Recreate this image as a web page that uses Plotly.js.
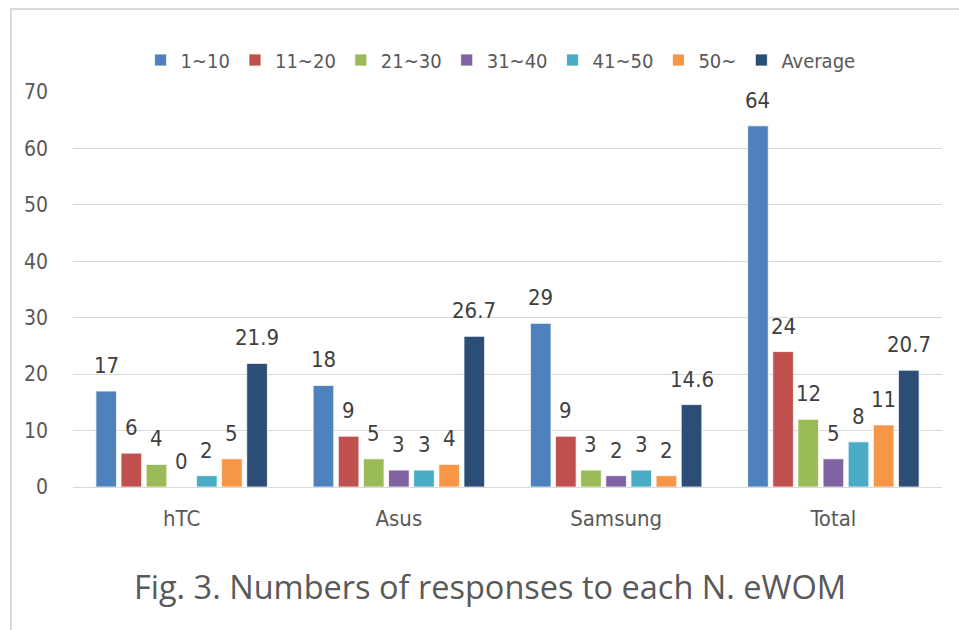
<!DOCTYPE html>
<html>
<head>
<meta charset="utf-8">
<script src="https://cdn.plot.ly/plotly-3.0.1.min.js"></script>
<style>
  html, body { margin: 0; padding: 0; background: #ffffff; }
  #wrap { position: relative; width: 959px; height: 630px; overflow: hidden; }
  #frame { position: absolute; left: 10px; top: 8px; width: 1000px; height: 700px;
           border-left: 2px solid #d9d9d9; border-top: 2px solid #d9d9d9; pointer-events: none; }
  #chart { position: absolute; left: 0; top: 0; width: 959px; height: 630px; }
</style>
</head>
<body>
<div id="wrap">
  <div id="chart"></div>
  <div id="frame"></div>
</div>
<script>
// Brands on the category axis
const brands = ['hTC', 'Asus', 'Samsung', 'Total'];

// Number of responses per eWOM count band
const band1to10  = [17, 18, 29, 64];
const band11to20 = [6, 9, 9, 24];
const band21to30 = [4, 5, 3, 12];
const band31to40 = [0, 3, 2, 5];
const band41to50 = [2, 3, 3, 8];
const band50up   = [5, 4, 2, 11];
const average    = [21.9, 26.7, 14.6, 20.7];

const seriesNames  = ['1~10', '11~20', '21~30', '31~40', '41~50', '50~', 'Average'];
const seriesValues = [band1to10, band11to20, band21to30, band31to40, band41to50, band50up, average];
const seriesColors = ['#4f81bd', '#c0504d', '#9bbb59', '#8064a2', '#4bacc6', '#f79646', '#2c4d75'];

const yTicks = [0, 10, 20, 30, 40, 50, 60, 70];

const FONT = '"Liberation Sans Narrow", "Arial Narrow", "DejaVu Sans Condensed", sans-serif';
const W = 959, H = 630;
const margin = { l: 73, r: 17, t: 92, b: 143 };
const bargap = 0.19, bargroupgap = 0.18;

const traces = seriesNames.map((name, i) => ({
  type: 'bar',
  name: name,
  x: brands,
  y: seriesValues[i],
  marker: { color: seriesColors[i], line: { color: '#ffffff', width: 0.75 } },
  hoverinfo: 'x+y+name'
}));

// Value labels sit above each bar; horizontal offset follows the grouped-bar slot width
const plotW = W - margin.l - margin.r;
const slotPx = (plotW / brands.length) * (1 - bargap) / seriesNames.length;
const annotations = [];
seriesValues.forEach((vals, i) => {
  vals.forEach((v, j) => {
    annotations.push({
      x: brands[j], y: v, xref: 'x', yref: 'y',
      text: String(v), showarrow: false,
      xanchor: 'center', yanchor: 'bottom',
      xshift: (i - (seriesNames.length - 1) / 2) * slotPx,
      yshift: 11,
      font: { family: FONT, size: 22, color: '#404040' }
    });
  });
});

// Figure caption beneath the chart
annotations.push({
  xref: 'paper', yref: 'paper', x: 0.48, y: -0.252,
  xanchor: 'center', yanchor: 'middle', showarrow: false,
  text: 'Fig. 3. Numbers of responses to each N. eWOM',
  font: { family: '"Open Sans", sans-serif', size: 32.5, color: '#595959' }
});

const layout = {
  width: W, height: H,
  margin: margin,
  paper_bgcolor: '#ffffff', plot_bgcolor: '#ffffff',
  barmode: 'group', bargap: bargap, bargroupgap: bargroupgap,
  font: { family: FONT, color: '#595959' },
  showlegend: true,
  legend: {
    orientation: 'h', x: 0.492, xanchor: 'center', y: 1.081, yanchor: 'middle',
    font: { family: FONT, size: 20, color: '#595959' },
    itemwidth: 30, traceorder: 'normal', bgcolor: 'rgba(0,0,0,0)'
  },
  xaxis: {
    type: 'category', showgrid: false, zeroline: false,
    showline: false, ticks: '',
    tickfont: { family: FONT, size: 22, color: '#595959' },
    ticklabelstandoff: 16
  },
  yaxis: {
    range: [0, 70], tickmode: 'array', tickvals: yTicks, ticktext: yTicks.map(String),
    showgrid: true, gridcolor: '#d9d9d9', gridwidth: 1,
    zeroline: true, zerolinecolor: '#d9d9d9', zerolinewidth: 1,
    showline: false, ticks: '',
    tickfont: { family: FONT, size: 21, color: '#595959' },
    ticklabelstandoff: 24
  },
  annotations: annotations
};

Plotly.newPlot('chart', traces, layout, { displayModeBar: false, staticPlot: true });
</script>
</body>
</html>
